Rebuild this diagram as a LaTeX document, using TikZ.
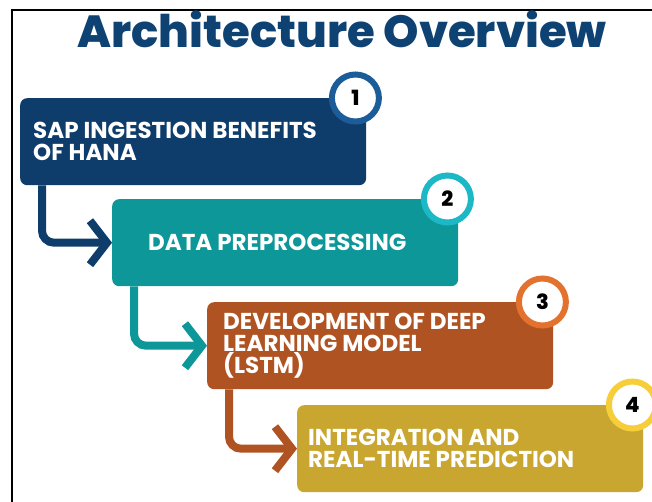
\documentclass[tikz,border=0pt]{standalone}
\usepackage{fontspec}
\setmainfont{Poppins}
\newfontfamily\heavyfont{Poppins ExtraBold}
\usepackage{tikz}
\usetikzlibrary{arrows.meta, positioning}
\definecolor{TTL}{HTML}{0E4273}
\definecolor{S1}{HTML}{0F3D6B}
\definecolor{R1}{HTML}{1C5C99}
\definecolor{S2}{HTML}{0E9799}
\definecolor{R2}{HTML}{1CB8C6}
\definecolor{S3}{HTML}{B05322}
\definecolor{R3}{HTML}{E3722F}
\definecolor{S4}{HTML}{C8A62F}
\definecolor{R4}{HTML}{F5CE3A}
\tikzset{
  BOX/.style={% rounded box of one stage
      rectangle, rounded corners=7pt,
      anchor=north west,
      minimum width=346pt,
      minimum height=87pt,
      inner sep=0pt,
  },
  TXT/.style={% white caption, sits left in the box
      anchor=west, align=left,
      text=white,
      font=\bfseries\fontsize{23}{22}\selectfont,
      inner sep=0pt,
  },
  BADGE/.style={% ring with the number, on the corner of the box
      circle, line width=6pt,
      fill=white,
      minimum size=47pt,
      inner sep=0pt,
      font=\heavyfont\fontsize{21}{23}\selectfont,
  },
  FLOW/.style={% fat bent arrow from one box to the next
      line width=8pt, rounded corners=12pt,
      -{Straight Barb[length=17pt,width=44pt]},
  },
}
\def\stage(#1)#2#3#4{% position, number, text padding, caption
  \node[BOX, fill=S#2] (box#2) at (#1) {};
  \node[TXT] (txt#2) at ([xshift=#3]box#2.west) {#4}; % caption relative to box
  \node[BADGE, draw=R#2] (num#2) at ([xshift=-11pt]box#2.north east) {#2}; % badge on top right corner
}

\begin{document}
\begin{tikzpicture}[x=1pt, y=-1pt]
  \useasboundingbox (0,0) rectangle (652,502);
  \draw[line width=2pt] (12,502) -- (12,10) -- (652,10); % frame of the shot
  \node[font=\heavyfont\fontsize{45}{50}\selectfont, text=TTL, anchor=base] (title) at (342,48) {Architecture Overview};
  \stage(20,98){1}{13pt}{SAP INGESTION BENEFITS\\OF HANA}
  \stage(112,199){2}{36pt}{DATA PREPROCESSING}
  \stage(207,302){3}{16pt}{DEVELOPMENT OF DEEP\\LEARNING MODEL\\(LSTM)}
  \stage(297,405){4}{11pt}{INTEGRATION AND\\REAL-TIME PREDICTION}
  \foreach \a/\b in {1/2, 2/3, 3/4} % arrows going down the steps
    \draw[FLOW, draw=S\a] ([xshift=22pt]box\a.south west) |- (box\b.west);
\end{tikzpicture}
\end{document}
